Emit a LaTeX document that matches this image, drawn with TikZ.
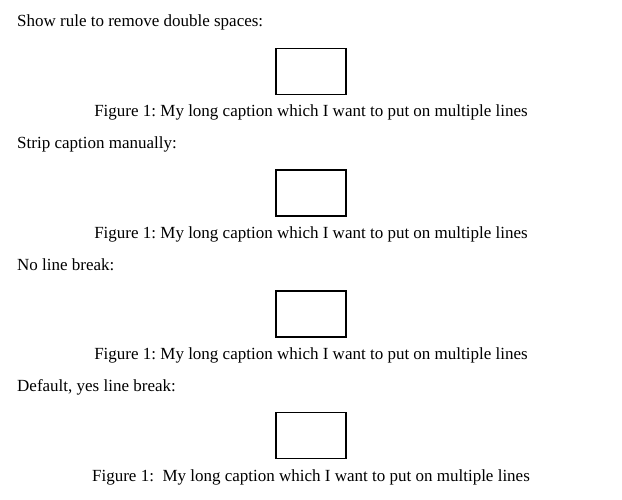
\documentclass[tikz,border=0pt]{standalone}
\usepackage{fontspec}
\setmainfont{Liberation Serif}
\begin{document}
\begin{tikzpicture}[x=1pt,y=-1pt,
  lbl/.style={anchor=west,inner sep=0pt,font=\fontsize{17}{19}\selectfont\frenchspacing},
  captext/.style={anchor=center,inner sep=0pt,font=\fontsize{17}{19}\selectfont\frenchspacing},
  fig/.style={draw,line width=1.2pt,minimum width=70pt,minimum height=46pt,inner sep=0pt}]
\useasboundingbox (0,0) rectangle (622,499);
\node[lbl] (l1) at (17,22) {Show rule to remove double spaces:};
\node[fig] (b1) at (311,71.5) {};
\node[captext] (c1) at (311,112) {Figure 1: My long caption which I want to put on multiple lines};
\node[lbl] (l2) at (17,144) {Strip caption manually:};
\node[fig] (b2) at (311,193) {};
\node[captext] (c2) at (311,234) {Figure 1: My long caption which I want to put on multiple lines};
\node[lbl] (l3) at (17,265) {No line break:};
\node[fig] (b3) at (311,314) {};
\node[captext] (c3) at (311,355) {Figure 1: My long caption which I want to put on multiple lines};
\node[lbl] (l4) at (17,387) {Default, yes line break:};
\node[fig] (b4) at (311,435.5) {};
\node[captext] (c4) at (311,477) {Figure 1:\ \ My long caption which I want to put on multiple lines};
\end{tikzpicture}
\end{document}
